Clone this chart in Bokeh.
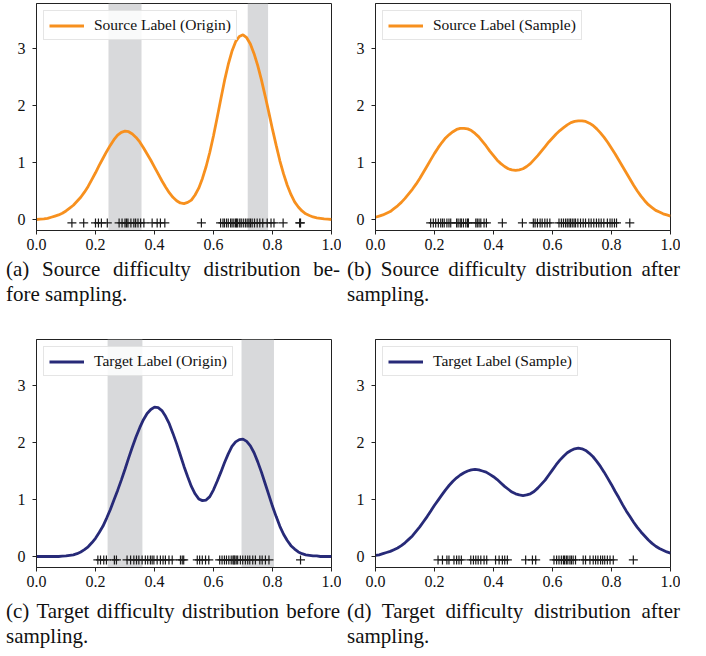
from bokeh.plotting import figure
from bokeh.models import Range1d, BoxAnnotation, Div, FixedTicker
from bokeh.layouts import column, row
from bokeh.embed import file_html
from bokeh.resources import INLINE

# ---------------- data ----------------
grid_x = [0.0, 0.0125, 0.025, 0.0375, 0.05, 0.0625, 0.075, 0.0875, 0.1, 0.1125,
          0.125, 0.1375, 0.15, 0.1625, 0.175, 0.1875, 0.2, 0.2125, 0.225, 0.2375,
          0.25, 0.2625, 0.275, 0.2875, 0.3, 0.3125, 0.325, 0.3375, 0.35, 0.3625,
          0.375, 0.3875, 0.4, 0.4125, 0.425, 0.4375, 0.45, 0.4625, 0.475, 0.4875,
          0.5, 0.5125, 0.525, 0.5375, 0.55, 0.5625, 0.575, 0.5875, 0.6, 0.6125,
          0.625, 0.6375, 0.65, 0.6625, 0.675, 0.6875, 0.7, 0.7125, 0.725, 0.7375,
          0.75, 0.7625, 0.775, 0.7875, 0.8, 0.8125, 0.825, 0.8375, 0.85, 0.8625,
          0.875, 0.8875, 0.9, 0.9125, 0.925, 0.9375, 0.95, 0.9625, 0.975, 0.9875, 1.0]

source_origin = [0.00, 0.005, 0.01, 0.02, 0.04, 0.06, 0.08, 0.11, 0.15, 0.20,
                 0.25, 0.32, 0.39, 0.48, 0.58, 0.70, 0.82, 0.95, 1.07, 1.19,
                 1.30, 1.40, 1.48, 1.53, 1.55, 1.54, 1.50, 1.44, 1.36, 1.26,
                 1.15, 1.04, 0.92, 0.80, 0.68, 0.57, 0.47, 0.39, 0.33, 0.29,
                 0.28, 0.30, 0.34, 0.43, 0.55, 0.72, 0.93, 1.18, 1.47, 1.79,
                 2.12, 2.44, 2.72, 2.95, 3.12, 3.21, 3.24, 3.19, 3.08, 2.91,
                 2.70, 2.45, 2.17, 1.88, 1.58, 1.30, 1.03, 0.80, 0.60, 0.44,
                 0.31, 0.22, 0.15, 0.10, 0.07, 0.045, 0.03, 0.02, 0.01, 0.005, 0.00]

source_sample = [0.04, 0.06, 0.08, 0.11, 0.14, 0.19, 0.24, 0.30, 0.37, 0.45,
                 0.53, 0.62, 0.72, 0.83, 0.94, 1.05, 1.16, 1.26, 1.35, 1.43,
                 1.49, 1.54, 1.58, 1.60, 1.60, 1.59, 1.56, 1.51, 1.45, 1.37,
                 1.29, 1.20, 1.12, 1.04, 0.98, 0.93, 0.89, 0.87, 0.86, 0.87,
                 0.89, 0.93, 0.98, 1.05, 1.12, 1.20, 1.28, 1.36, 1.43, 1.50,
                 1.56, 1.61, 1.66, 1.70, 1.72, 1.73, 1.73, 1.72, 1.69, 1.65,
                 1.59, 1.52, 1.44, 1.35, 1.25, 1.15, 1.04, 0.93, 0.82, 0.71,
                 0.60, 0.50, 0.41, 0.33, 0.26, 0.21, 0.16, 0.13, 0.10, 0.08, 0.06]

target_origin = [0.00, 0.00, 0.00, 0.00, 0.00, 0.00, 0.00, 0.005, 0.01, 0.02,
                 0.03, 0.05, 0.08, 0.12, 0.17, 0.24, 0.32, 0.42, 0.53, 0.67,
                 0.82, 0.99, 1.16, 1.34, 1.53, 1.73, 1.92, 2.10, 2.26, 2.40,
                 2.51, 2.58, 2.62, 2.61, 2.56, 2.46, 2.33, 2.16, 1.98, 1.78,
                 1.58, 1.40, 1.23, 1.10, 1.01, 0.98, 0.99, 1.05, 1.17, 1.32,
                 1.48, 1.65, 1.80, 1.93, 2.01, 2.05, 2.06, 2.02, 1.94, 1.82,
                 1.66, 1.48, 1.28, 1.08, 0.88, 0.70, 0.53, 0.39, 0.28, 0.19,
                 0.13, 0.08, 0.05, 0.03, 0.02, 0.01, 0.01, 0.00, 0.00, 0.00, 0.00]

target_sample = [0.02, 0.03, 0.05, 0.07, 0.09, 0.12, 0.15, 0.19, 0.24, 0.30,
                 0.36, 0.44, 0.52, 0.61, 0.70, 0.80, 0.90, 0.99, 1.08, 1.17,
                 1.25, 1.32, 1.38, 1.43, 1.47, 1.50, 1.52, 1.53, 1.52, 1.50,
                 1.48, 1.44, 1.40, 1.35, 1.29, 1.23, 1.18, 1.13, 1.10, 1.08,
                 1.07, 1.08, 1.10, 1.14, 1.20, 1.27, 1.34, 1.43, 1.52, 1.61,
                 1.69, 1.76, 1.82, 1.86, 1.89, 1.90, 1.89, 1.86, 1.81, 1.75,
                 1.67, 1.58, 1.48, 1.37, 1.26, 1.14, 1.03, 0.91, 0.80, 0.70,
                 0.60, 0.51, 0.43, 0.36, 0.29, 0.23, 0.18, 0.14, 0.11, 0.08, 0.06]

rug_source_origin = [0.12, 0.16, 0.20, 0.21, 0.22, 0.24, 0.28, 0.29, 0.30, 0.305,
                     0.31, 0.32, 0.33, 0.336, 0.344, 0.353, 0.364, 0.392, 0.409, 0.42,
                     0.435, 0.559, 0.624, 0.632, 0.637, 0.644, 0.65, 0.658, 0.663, 0.669,
                     0.675, 0.678, 0.682, 0.689, 0.694, 0.701, 0.708, 0.714, 0.72, 0.725,
                     0.731, 0.739, 0.748, 0.757, 0.767, 0.782, 0.795, 0.805, 0.836, 0.892, 0.895]

rug_source_sample = [0.187, 0.196, 0.204, 0.213, 0.221, 0.227, 0.233, 0.242, 0.249, 0.255,
                     0.275, 0.28, 0.287, 0.291, 0.298, 0.306, 0.312, 0.315, 0.34, 0.345,
                     0.351, 0.357, 0.368, 0.376, 0.43, 0.498, 0.535, 0.541, 0.549, 0.558,
                     0.565, 0.574, 0.582, 0.591, 0.622, 0.63, 0.637, 0.644, 0.65, 0.656,
                     0.661, 0.667, 0.673, 0.678, 0.686, 0.695, 0.704, 0.712, 0.723, 0.731,
                     0.74, 0.749, 0.757, 0.765, 0.774, 0.786, 0.795, 0.802, 0.81, 0.817, 0.862]

rug_target_origin = [0.208, 0.217, 0.228, 0.237, 0.264, 0.271, 0.307, 0.319, 0.33, 0.339,
                     0.347, 0.358, 0.369, 0.377, 0.386, 0.392, 0.398, 0.409, 0.42, 0.429,
                     0.437, 0.449, 0.46, 0.488, 0.494, 0.499, 0.545, 0.553, 0.562, 0.573,
                     0.584, 0.621, 0.629, 0.637, 0.644, 0.652, 0.66, 0.666, 0.669, 0.672,
                     0.677, 0.682, 0.691, 0.699, 0.708, 0.716, 0.723, 0.733, 0.742, 0.757,
                     0.765, 0.776, 0.788, 0.895]

rug_target_sample = [0.212, 0.227, 0.242, 0.249, 0.266, 0.275, 0.283, 0.291, 0.323, 0.332,
                     0.34, 0.348, 0.357, 0.368, 0.377, 0.407, 0.419, 0.43, 0.438, 0.447,
                     0.509, 0.532, 0.543, 0.605, 0.614, 0.622, 0.63, 0.637, 0.641, 0.647,
                     0.652, 0.659, 0.664, 0.67, 0.678, 0.704, 0.712, 0.727, 0.738, 0.746,
                     0.754, 0.763, 0.77, 0.777, 0.786, 0.795, 0.806, 0.874]

spans_source_left = [0.244, 0.716]
spans_source_right = [0.356, 0.785]
spans_target_left = [0.241, 0.695]
spans_target_right = [0.359, 0.805]

x_ticks = [0.0, 0.2, 0.4, 0.6, 0.8, 1.0]
x_tick_labels = ["0.0", "0.2", "0.4", "0.6", "0.8", "1.0"]
y_ticks = [0, 1, 2, 3]

legend_labels = ["Source Label (Origin)", "Source Label (Sample)",
                 "Target Label (Origin)", "Target Label (Sample)"]
captions = [
    ("(a) Source difficulty distribution be-", "fore sampling."),
    ("(b) Source difficulty distribution after", "sampling."),
    ("(c) Target difficulty distribution before", "sampling."),
    ("(d) Target difficulty distribution after", "sampling."),
]

# ---------------- style ----------------
ORANGE = "#f7901e"
NAVY = "#272a78"
SPAN_COLOR = "#d8d9db"
SERIF = "'Liberation Serif', 'Times New Roman', Times, serif"
RUG_Y = -0.06
PX_PER_UNIT = 57.0


def make_panel(xs, ys, rug, color, label, spans, frame_top, frame_h, min_left, min_bottom):
    zero_px = frame_h - 11  # zero line sits 11px above the frame bottom
    top_val = zero_px / PX_PER_UNIT
    bottom_val = -11.0 / PX_PER_UNIT
    p = figure(output_backend="svg", toolbar_location=None,
               frame_width=295, frame_height=frame_h,
               x_range=Range1d(0, 1), y_range=Range1d(bottom_val, top_val),
               min_border_top=frame_top, min_border_left=min_left,
               min_border_right=10, min_border_bottom=min_bottom)
    p.grid.visible = False
    p.outline_line_color = "#222222"
    p.outline_line_width = 1
    p.background_fill_color = "white"
    p.border_fill_color = "white"

    if spans is not None:
        for l, r in zip(*spans):
            p.add_layout(BoxAnnotation(left=l, right=r, fill_color=SPAN_COLOR, fill_alpha=1.0,
                                       line_color=None, level="underlay"))

    p.line(xs, ys, line_color=color, line_width=2.8, legend_label=label)
    p.scatter(rug, [RUG_Y] * len(rug), marker="cross", size=9,
              line_color="#1a1a1a", line_width=1.2)

    for ax in (p.xaxis[0], p.yaxis[0]):
        ax.axis_line_color = "#222222"
        ax.major_tick_line_color = "#222222"
        ax.major_tick_in = 0
        ax.major_tick_out = 4
        ax.minor_tick_line_color = None
        ax.major_label_text_font = SERIF
        ax.major_label_text_font_size = "16px"
        ax.major_label_text_color = "#111111"
    p.xaxis[0].major_label_standoff = 4
    p.yaxis[0].major_label_standoff = 7
    p.xaxis[0].ticker = FixedTicker(ticks=x_ticks)
    p.xaxis[0].major_label_overrides = {t: s for t, s in zip(x_ticks, x_tick_labels)}
    p.yaxis[0].ticker = FixedTicker(ticks=y_ticks)

    lg = p.legend[0]
    lg.location = "top_left"
    lg.margin = 7
    lg.padding = 5
    lg.spacing = 0
    lg.label_text_font = SERIF
    lg.label_text_font_size = "15.5px"
    lg.label_text_color = "#111111"
    lg.glyph_width = 35
    lg.glyph_height = 17
    lg.label_height = 17
    lg.label_standoff = 10
    lg.border_line_color = "#cccccc"
    lg.border_line_width = 1
    lg.background_fill_alpha = 0.85
    return p


def make_caption(lines, width, margin_left, text_w):
    l1, l2 = lines
    html = (
        '<div style="font-family: &quot;Liberation Serif&quot;, &quot;Times New Roman&quot;, serif;'
        ' font-size:21px; line-height:24.5px; color:#111; padding:0;'
        f' margin:0 0 0 {margin_left}px; width:{text_w}px; box-sizing:content-box;">'
        f'<div style="text-align:justify; text-align-last:justify;">{l1}</div>'
        f'<div style="text-align:left;">{l2}</div></div>'
    )
    return Div(text=html, width=width, height=49, margin=0,
               styles={"font-family": "'Liberation Serif', 'Times New Roman', serif"})


pa = make_panel(grid_x, source_origin, rug_source_origin, ORANGE, legend_labels[0],
                (spans_source_left, spans_source_right), 3, 227, 36, 27)
pb = make_panel(grid_x, source_sample, rug_source_sample, ORANGE, legend_labels[1],
                None, 3, 227, 34, 27)
pc = make_panel(grid_x, target_origin, rug_target_origin, NAVY, legend_labels[2],
                (spans_target_left, spans_target_right), 33, 228, 36, 32)
pd = make_panel(grid_x, target_sample, rug_target_sample, NAVY, legend_labels[3],
                None, 33, 228, 34, 32)

ca = make_caption(captions[0], 341, 6, 334)
cb = make_caption(captions[1], 339, 6, 333)
cc = make_caption(captions[2], 341, 6, 334)
cd = make_caption(captions[3], 339, 6, 333)

layout = column(row(pa, pb), row(ca, cb), row(pc, pd), row(cc, cd))

open("out.html", "w").write(file_html(layout, INLINE))
